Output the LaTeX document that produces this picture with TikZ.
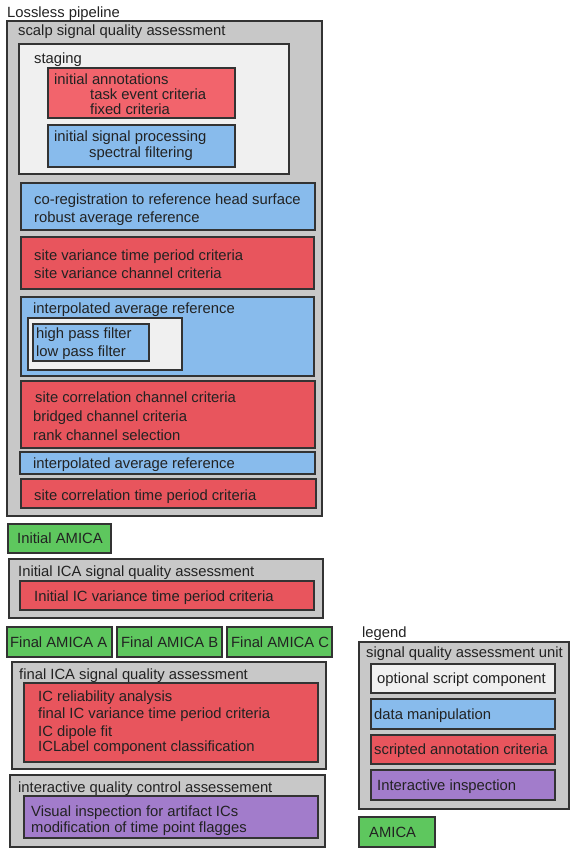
\documentclass[tikz,border=0pt]{standalone}
\usepackage{fontspec}
\setmainfont{Liberation Sans}
\usetikzlibrary{fit}
\definecolor{cgray}{HTML}{C8C8C8}
\definecolor{clight}{HTML}{F0F0F0}
\definecolor{cblue}{HTML}{88BBEC}
\definecolor{cred}{HTML}{E8555D}
\definecolor{credl}{HTML}{F2646C}
\definecolor{cgreen}{HTML}{5EC75E}
\definecolor{cpurple}{HTML}{A27CCB}
\definecolor{cborder}{HTML}{333333}
\definecolor{ctext}{HTML}{222222}
\tikzset{
  box/.style={draw=cborder, line width=1.2pt, inner sep=0pt, rectangle},
  graybox/.style={box, fill=cgray},
  lightbox/.style={box, fill=clight},
  bluebox/.style={box, fill=cblue},
  redbox/.style={box, fill=cred},
  redlbox/.style={box, fill=credl},
  greenbox/.style={box, fill=cgreen},
  purplebox/.style={box, fill=cpurple},
  txt/.style={anchor=west, inner sep=0pt, text=ctext, font=\fontsize{14.8}{16}\selectfont, text height=11pt, text depth=3.5pt, yshift=-1.5pt},
}
\newcommand{\bx}[6]{\node[#2, fit={(#3,#4) (#5,#6)}] (#1) {};}
\begin{document}
\begin{tikzpicture}[x=1pt, y=-1pt]
\useasboundingbox (0,0) rectangle (579,857);
% boxes
\bx{scalp}{graybox}{7}{21}{322}{516}
\bx{staging}{lightbox}{19}{44}{289}{174}
\bx{initann}{redlbox}{48}{68}{235}{118}
\bx{isp}{bluebox}{48}{125}{235}{167}
\bx{coreg}{bluebox}{21}{183}{315}{230}
\bx{sitevar}{redbox}{21}{237}{314}{289}
\bx{iarA}{bluebox}{21}{297}{314}{376}
\bx{hplight}{lightbox}{28}{318}{182}{370}
\bx{hpblue}{bluebox}{33}{324}{149}{361}
\bx{sitecorr}{redbox}{21}{381}{315}{448}
\bx{iarB}{bluebox}{20}{452}{315}{474}
\bx{sitetime}{redbox}{21}{479}{316}{508}
\bx{initamica}{greenbox}{8}{524}{111}{553}
\bx{initica}{graybox}{9}{559}{323}{618}
\bx{initicared}{redbox}{20}{581}{314}{610}
\bx{famA}{greenbox}{7}{627}{112}{657}
\bx{famB}{greenbox}{117}{627}{222}{657}
\bx{famC}{greenbox}{227}{627}{332}{657}
\bx{finalica}{graybox}{12}{662}{326}{769}
\bx{finalred}{redbox}{24}{683}{318}{762}
\bx{interact}{graybox}{10}{775}{325}{847}
\bx{interpurple}{purplebox}{24}{796}{318}{838}
\bx{legbox}{graybox}{359}{642}{569}{809}
\bx{legA}{lightbox}{371}{664}{555}{693}
\bx{legB}{bluebox}{371}{699}{555}{729}
\bx{legC}{redbox}{371}{735}{555}{764}
\bx{legD}{purplebox}{371}{770}{555}{800}
\bx{amica}{greenbox}{359}{817}{435}{847}
% texts
\node[txt] (t1) at (7,12) {Lossless pipeline};
\node[txt] (t2) at (18,30) {scalp signal quality assessment};
\node[txt] (t3) at (34,58) {staging};
\node[txt] (t4) at (54,79) {initial annotations};
\node[txt] (t5) at (90,94) {task event criteria};
\node[txt] (t6) at (90,109) {fixed criteria};
\node[txt] (t7) at (54,136) {initial signal processing};
\node[txt] (t8) at (89,152) {spectral filtering};
\node[txt] (t9) at (34,199) {co-registration to reference head surface};
\node[txt] (t10) at (34,217) {robust average reference};
\node[txt] (t11) at (34,255) {site variance time period criteria};
\node[txt] (t12) at (34,273) {site variance channel criteria};
\node[txt] (t13) at (33,308) {interpolated average reference};
\node[txt] (t14) at (36,333) {high pass filter};
\node[txt] (t15) at (36,351) {low pass filter};
\node[txt] (t16) at (35,397) {site correlation channel criteria};
\node[txt] (t17) at (33,416) {bridged channel criteria};
\node[txt] (t18) at (33,435) {rank channel selection};
\node[txt] (t19) at (33,463) {interpolated average reference};
\node[txt] (t20) at (34,495) {site correlation time period criteria};
\node[txt] (t21) at (17,538) {Initial AMICA};
\node[txt] (t22) at (18,571) {Initial ICA signal quality assessment};
\node[txt] (t23) at (34,596) {Initial IC variance time period criteria};
\node[txt] (t24) at (10,642) {Final AMICA A};
\node[txt] (t25) at (121,642) {Final AMICA B};
\node[txt] (t26) at (231,642) {Final AMICA C};
\node[txt] (t27) at (19,674) {final ICA signal quality assessment};
\node[txt] (t28) at (38,696) {IC reliability analysis};
\node[txt] (t29) at (38,713) {final IC variance time period criteria};
\node[txt] (t30) at (38,731) {IC dipole fit};
\node[txt] (t31) at (38,746) {ICLabel component classification};
\node[txt] (t32) at (18,787) {interactive quality control assessement};
\node[txt] (t33) at (31,811) {Visual inspection for artifact ICs};
\node[txt] (t34) at (31,827) {modification of time point flagges};
\node[txt] (t35) at (362,632) {legend};
\node[txt] (t36) at (366,652) {signal quality assessment unit};
\node[txt] (t37) at (377,678) {optional script component};
\node[txt] (t38) at (374,714) {data manipulation};
\node[txt] (t39) at (374,749) {scripted annotation criteria};
\node[txt] (t40) at (377,785) {Interactive inspection};
\node[txt] (t41) at (369,832) {AMICA};
\end{tikzpicture}
\end{document}
